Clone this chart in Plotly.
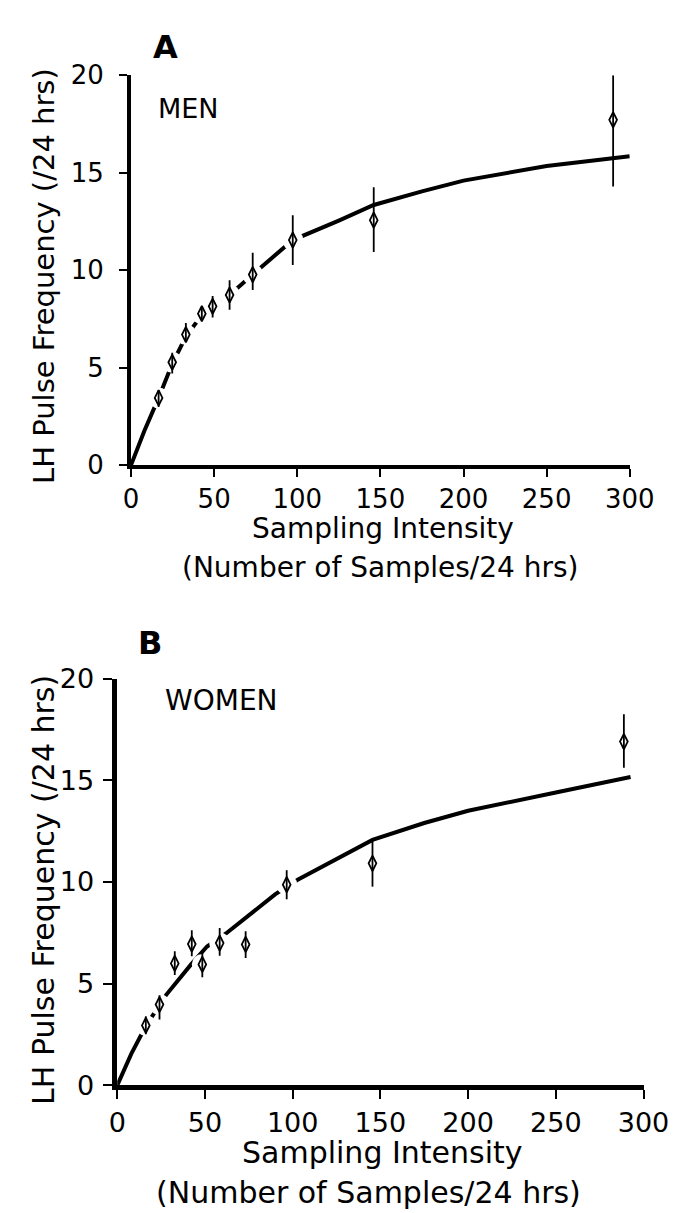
import plotly.graph_objects as go

# ---- data ----
# Panel A (men)
men_x = [16.6, 24.8, 33.0, 42.6, 49.1, 59.3, 73.2, 97.3, 146, 290]
men_y = [3.45, 5.28, 6.70, 7.77, 8.15, 8.73, 9.78, 11.55, 12.57, 17.72]
men_err_up = [0.39, 0.48, 0.59, 0.29, 0.53, 0.75, 1.12, 1.27, 1.69, 2.28]
men_err_dn = [0.47, 0.58, 0.37, 0.28, 0.57, 0.76, 0.80, 1.28, 1.63, 3.42]
men_fit_x = [0, 8, 16.6, 24.8, 33, 42.6, 49.1, 59.3, 73.2, 97.3, 125, 146, 175, 200, 250, 300]
men_fit_y = [0, 1.75, 3.45, 5.2, 6.6, 7.7, 8.15, 8.73, 9.78, 11.55, 12.55, 13.35, 14.05, 14.6, 15.35, 15.85]

# Panel B (women)
women_x = [16.3, 24.1, 32.8, 42.5, 48.5, 58.4, 73.2, 96.6, 145.5, 288.8]
women_y = [2.95, 3.98, 6.0, 6.95, 5.95, 7.0, 6.93, 9.87, 10.92, 16.9]
women_err_up = [0.45, 0.45, 0.59, 0.68, 0.64, 0.74, 0.65, 0.71, 1.15, 1.35]
women_err_dn = [0.43, 0.74, 0.57, 0.60, 0.63, 0.62, 0.66, 0.72, 1.15, 1.29]
women_fit_x = [0, 8, 16.3, 24.1, 27.7, 42.1, 51.2, 62, 90, 102.6, 132.4, 145.5, 175, 200, 250, 292.6]
women_fit_y = [0, 1.55, 2.92, 3.96, 4.43, 5.95, 6.83, 7.47, 9.39, 10.1, 11.46, 12.07, 12.9, 13.5, 14.4, 15.16]

x_ticks = [0, 50, 100, 150, 200, 250, 300]
y_ticks = [0, 5, 10, 15, 20]

W, H = 700, 1213
FONT = "DejaVu Sans"


def px(x):
    return x / W


def py(y):
    return 1 - y / H


fig = go.Figure()


def add_panel(xs, ys, up, dn, fx, fy, xa, ya):
    # fitted curve
    fig.add_trace(go.Scatter(x=fx, y=fy, mode="lines", xaxis=xa, yaxis=ya,
                             line=dict(color="black", width=4), hoverinfo="skip"))
    # white halo so the curve breaks around each point
    fig.add_trace(go.Scatter(x=xs, y=ys, mode="markers", xaxis=xa, yaxis=ya,
                             marker=dict(symbol="circle", size=21, color="white"),
                             hoverinfo="skip"))
    # observed points
    fig.add_trace(go.Scatter(x=xs, y=ys, mode="markers", xaxis=xa, yaxis=ya,
                             marker=dict(symbol="diamond-tall-open", size=11, color="black",
                                         line=dict(color="black", width=1.8)),
                             error_y=dict(type="data", array=up, arrayminus=dn, symmetric=False,
                                          color="black", thickness=1.8, width=0)))


add_panel(men_x, men_y, men_err_up, men_err_dn, men_fit_x, men_fit_y, "x", "y")
add_panel(women_x, women_y, women_err_up, women_err_dn, women_fit_x, women_fit_y, "x2", "y2")

common_x = dict(range=[0, 300], tickvals=x_ticks, ticks="outside", tickwidth=2, tickcolor="black",
                showline=True, linecolor="black", showgrid=False, zeroline=False)
common_y = dict(range=[0, 20], tickvals=y_ticks, ticks="outside", tickwidth=2, tickcolor="black",
                showline=True, linecolor="black", showgrid=False, zeroline=False)

fig.update_layout(
    width=W, height=H, autosize=False, showlegend=False,
    margin=dict(l=0, r=0, t=0, b=0),
    paper_bgcolor="white", plot_bgcolor="white",
    xaxis=dict(common_x, domain=[px(120), px(645)], anchor="y", linewidth=4, ticklen=8,
               tickfont=dict(family=FONT, size=26, color="black")),
    yaxis=dict(common_y, domain=[py(452.7), py(52.7)], anchor="x", linewidth=4, ticklen=8,
               ticklabelstandoff=10, tickfont=dict(family=FONT, size=26, color="black")),
    xaxis2=dict(common_x, domain=[px(105.5), px(659.5)], anchor="y2", linewidth=4.5, ticklen=9,
                tickfont=dict(family=FONT, size=27, color="black")),
    yaxis2=dict(common_y, domain=[py(1089.3), py(671.7)], anchor="x2", linewidth=4.5, ticklen=9,
                ticklabelstandoff=4, tickfont=dict(family=FONT, size=27, color="black")),
)


def note(text, x, y, size, bold=False, angle=0):
    fig.add_annotation(text=f"<b>{text}</b>" if bold else text, x=px(x), y=py(y),
                       xref="paper", yref="paper", showarrow=False, textangle=angle,
                       xanchor="center", yanchor="middle",
                       font=dict(family=FONT, size=size, color="black"))


note("A", 156, 24, 32, bold=True)
note("MEN", 181, 87, 27)
note("LH Pulse Frequency (/24 hrs)", 29, 259, 29, angle=-90)
note("Sampling Intensity", 385, 518, 28)
note("(Number of Samples/24 hrs)", 383, 558, 28)

note("B", 140, 635, 32, bold=True)
note("WOMEN", 215, 694, 28)
note("LH Pulse Frequency (/24 hrs)", 28, 889, 30, angle=-90)
note("Sampling Intensity", 385, 1158, 30)
note("(Number of Samples/24 hrs)", 370, 1199, 30)

fig.write_html("out.html")
